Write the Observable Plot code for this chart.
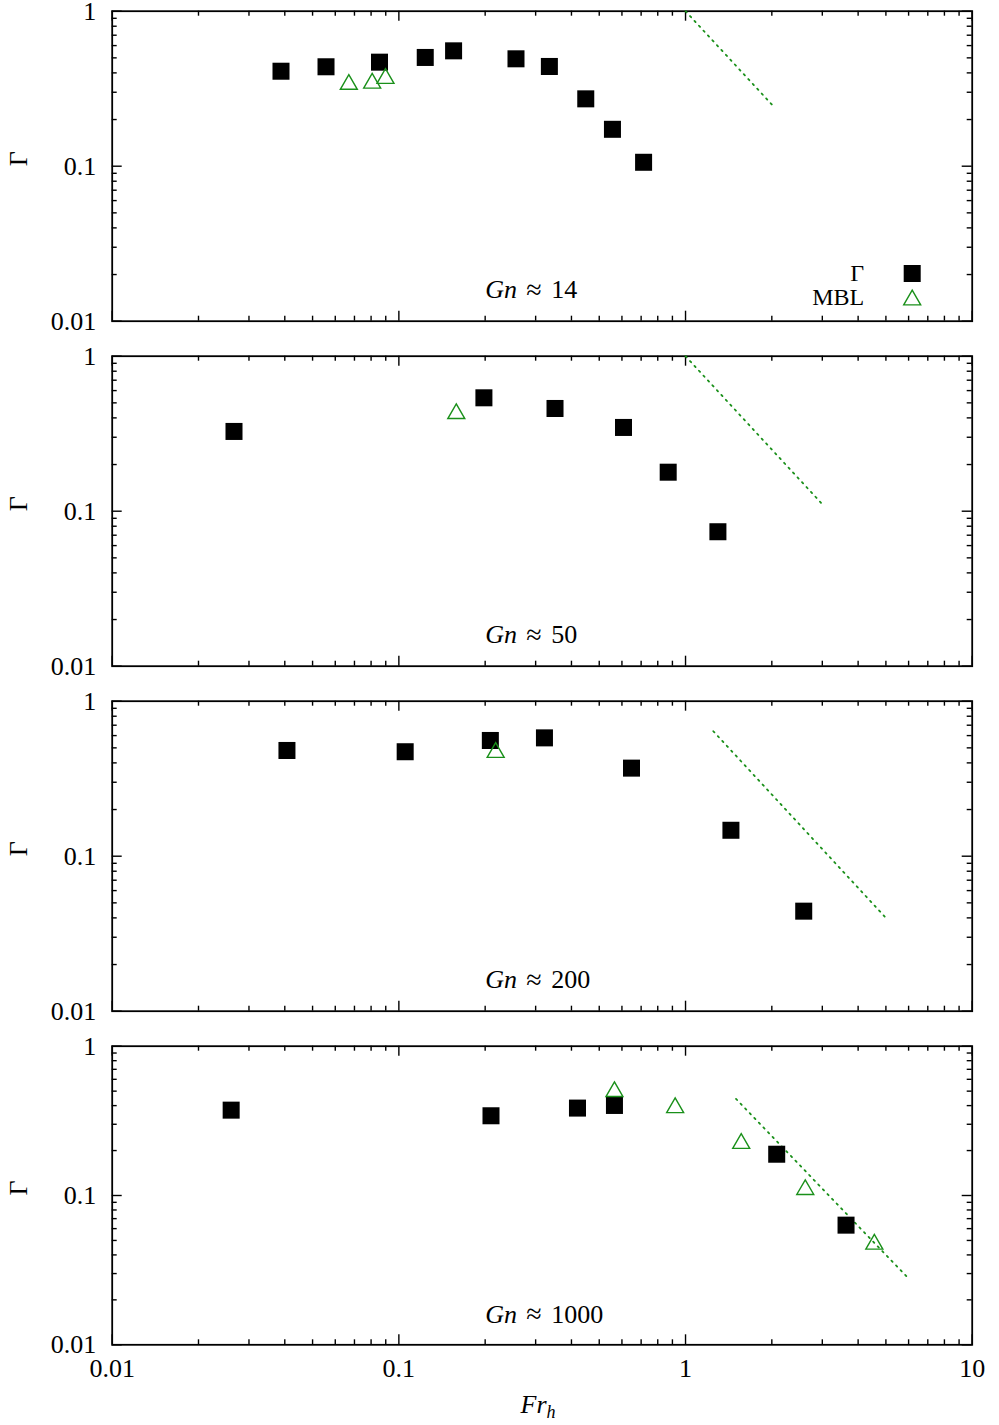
<!DOCTYPE html>
<html><head><meta charset="utf-8">
<script src="https://cdn.jsdelivr.net/npm/d3@7"></script>
<script src="https://cdn.jsdelivr.net/npm/@observablehq/plot@0.6"></script>
<style>
body{margin:0;background:#fff;}
#fig{position:relative;width:999px;height:1425px;font-family:"Liberation Serif",serif;background:#fff;}
.panel{position:absolute;left:0;}
#xlabel{position:absolute;left:108px;width:860px;top:1390px;text-align:center;font-size:26px;font-style:italic;}
#xlabel sub{font-size:18px;vertical-align:-5px;}
</style></head><body><div id="fig"><div id="xlabel">Fr<sub>h</sub></div></div>
<script>
// ---- data ----
const panelGn = ["14", "50", "200", "1000"];
const gammaFr = [
  [0.0388, 0.0557, 0.0856, 0.1236, 0.1552, 0.2562, 0.335, 0.4487, 0.556, 0.714],
  [0.0266, 0.198, 0.3505, 0.6075, 0.870, 1.297],
  [0.0407, 0.1052, 0.2085, 0.322, 0.648, 1.44, 2.584],
  [0.0260, 0.2096, 0.4198, 0.565, 2.08, 3.63]
];
const gammaVal = [
  [0.410, 0.438, 0.469, 0.503, 0.555, 0.493, 0.440, 0.272, 0.173, 0.106],
  [0.327, 0.539, 0.460, 0.347, 0.1785, 0.0737],
  [0.481, 0.472, 0.558, 0.580, 0.370, 0.147, 0.0442],
  [0.373, 0.342, 0.385, 0.401, 0.189, 0.0633]
];
const mblFr = [
  [0.0669, 0.0807, 0.0898],
  [0.1586],
  [0.2176],
  [0.565, 0.920, 1.564, 2.616, 4.556]
];
const mblVal = [
  [0.337, 0.343, 0.368],
  [0.426],
  [0.467],
  [0.496, 0.387, 0.223, 0.1095, 0.0472]
];
// dotted reference lines (Fr^-2), endpoints
const slopeFr = [[1, 2], [1, 3], [1.25, 5], [1.5, 6]];
const slopeVal = [[1, 0.25], [1, 0.111], [0.64, 0.04], [0.444, 0.0278]];
// annotation anchor (data coords)
const annotFr = [0.2];
const annotVal = [0.016];
const xTicks = [0.01, 0.1, 1, 10];
const yTicks = [0.01, 0.1, 1];
const xTickLabels = ["0.01", "0.1", "1", "10"];
const yTickLabels = ["0.01", "0.1", "1"];

// ---- layout ----
const green = "#1a901a";
const mL = 111.7, mR = 27.3, W = 999, fw = W - mL - mR;
const tops = [0, 345, 690, 1035];
const heights = [345, 345, 345, 390];
const frameH = [310, 310, 310, 298.6];
const mT = 10.7;

const minor = (lo, hi) => {
  const out = [];
  for (let e = lo; e < hi; e++) for (let k = 2; k <= 9; k++) out.push(k * Math.pow(10, e));
  return out;
};
const xMinor = minor(-2, 1), yMinor = minor(-2, 0);

const fig = document.getElementById("fig");
for (let i = 0; i < 4; i++) {
  const fh = frameH[i];
  const last = i === 3;
  const gamma = gammaFr[i].map((x, j) => ({x, y: gammaVal[i][j]}));
  const mbl = mblFr[i].map((x, j) => ({x, y: mblVal[i][j]}));
  const slope = slopeFr[i].map((x, j) => ({x, y: slopeVal[i][j]}));
  const annot = annotFr.map((x, j) => ({x, y: annotVal[j]}));
  const tk = {stroke: "black", strokeWidth: 1.4};
  const marks = [
    // inward ticks on all sides
    Plot.ruleX(xTicks, {x: d => d, insetTop: fh - 10, ...tk}),
    Plot.ruleX(xTicks, {x: d => d, insetBottom: fh - 10, ...tk}),
    Plot.ruleX(xMinor, {x: d => d, insetTop: fh - 5, ...tk}),
    Plot.ruleX(xMinor, {x: d => d, insetBottom: fh - 5, ...tk}),
    Plot.ruleY(yTicks, {y: d => d, insetRight: fw - 10, ...tk}),
    Plot.ruleY(yTicks, {y: d => d, insetLeft: fw - 10, ...tk}),
    Plot.ruleY(yMinor, {y: d => d, insetRight: fw - 5, ...tk}),
    Plot.ruleY(yMinor, {y: d => d, insetLeft: fw - 5, ...tk}),
    Plot.frame({stroke: "black", strokeWidth: 1.8}),
    Plot.axisY({ticks: yTicks, tickSize: 0, tickPadding: 16, tickFormat: d => yTickLabels[yTicks.indexOf(d)], label: null, fontSize: 26}),
    Plot.text(["Γ"], {frameAnchor: "left", dx: -94, rotate: -90, lineAnchor: "middle", fontSize: 26}),
    Plot.line(slope, {x: "x", y: "y", stroke: green, strokeWidth: 1.8, strokeDasharray: "1.6,5"}),
    Plot.dot(gamma, {x: "x", y: "y", symbol: "square", r: 9.6, fill: "black"}),
    Plot.dot(mbl, {x: "x", y: "y", symbol: "triangle", r: 6.3, stroke: green, fill: "none", strokeWidth: 1.4}),
    Plot.text(annot, {x: "x", y: "y", text: () => "Gn", textAnchor: "start", lineAnchor: "middle", fontStyle: "italic", fontSize: 26}),
    Plot.text(annot, {x: "x", y: "y", text: () => "≈", textAnchor: "start", lineAnchor: "middle", fontSize: 28, dx: 41}),
    Plot.text(annot, {x: "x", y: "y", text: () => panelGn[i], textAnchor: "start", lineAnchor: "middle", fontSize: 26, dx: 66})
  ];
  if (last) {
    marks.push(Plot.axisX({ticks: xTicks, tickSize: 0, tickPadding: 14, tickFormat: d => xTickLabels[xTicks.indexOf(d)], label: null, fontSize: 26}));
  }
  if (i === 0) {
    marks.push(
      Plot.text(["Γ"], {frameAnchor: "bottom-right", dx: -108, dy: -48, textAnchor: "end", lineAnchor: "middle", fontSize: 24}),
      Plot.text(["MBL"], {frameAnchor: "bottom-right", dx: -108, dy: -23.5, textAnchor: "end", lineAnchor: "middle", fontSize: 24}),
      Plot.dot([0], {frameAnchor: "bottom-right", dx: -60, dy: -47.7, symbol: "square", r: 9.6, fill: "black"}),
      Plot.dot([0], {frameAnchor: "bottom-right", dx: -60, dy: -21.2, symbol: "triangle", r: 6.3, stroke: green, fill: "none", strokeWidth: 1.4})
    );
  }
  const svg = Plot.plot({
    width: W,
    height: heights[i],
    marginLeft: mL,
    marginRight: mR,
    marginTop: mT,
    marginBottom: heights[i] - mT - fh,
    x: {type: "log", domain: [0.01, 10], axis: null},
    y: {type: "log", domain: [0.01, 1], axis: null},
    style: {background: "transparent", overflow: "visible", fontFamily: "Liberation Serif, serif", fontSize: "26px", color: "black"},
    marks
  });
  svg.classList.add("panel");
  svg.style.top = tops[i] + "px";
  fig.appendChild(svg);
}
</script>
</body></html>
